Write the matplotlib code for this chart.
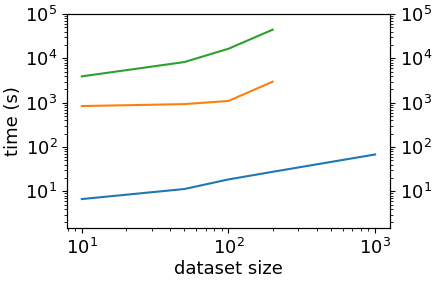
import matplotlib
matplotlib.use("Agg")
import matplotlib.pyplot as plt

sizes_blue = [10, 50, 100, 200, 1000]
time_blue = [6.7, 11.3, 18.6, 27.6, 68]

sizes_orange = [10, 50, 100, 200]
time_orange = [840, 930, 1095, 2980]

sizes_green = [10, 50, 100, 200]
time_green = [3930, 8260, 16500, 44400]

plt.rcParams["font.size"] = 13

fig = plt.figure(figsize=(4.36, 2.81), dpi=100)
ax = fig.add_axes([0.154, 0.189, 0.740, 0.761])

ax.plot(sizes_blue, time_blue, color="tab:blue", lw=1.5)
ax.plot(sizes_orange, time_orange, color="tab:orange", lw=1.5)
ax.plot(sizes_green, time_green, color="tab:green", lw=1.5)

ax.set_xscale("log")
ax.set_yscale("log")
ax.set_ylim(1.5, 1e5)
ax.set_xlabel("dataset size", labelpad=2)
ax.set_ylabel("time (s)", labelpad=2)

ax2 = ax.twinx()
ax2.set_yscale("log")
ax2.set_ylim(ax.get_ylim())

fig.savefig("out.png", dpi=100)
